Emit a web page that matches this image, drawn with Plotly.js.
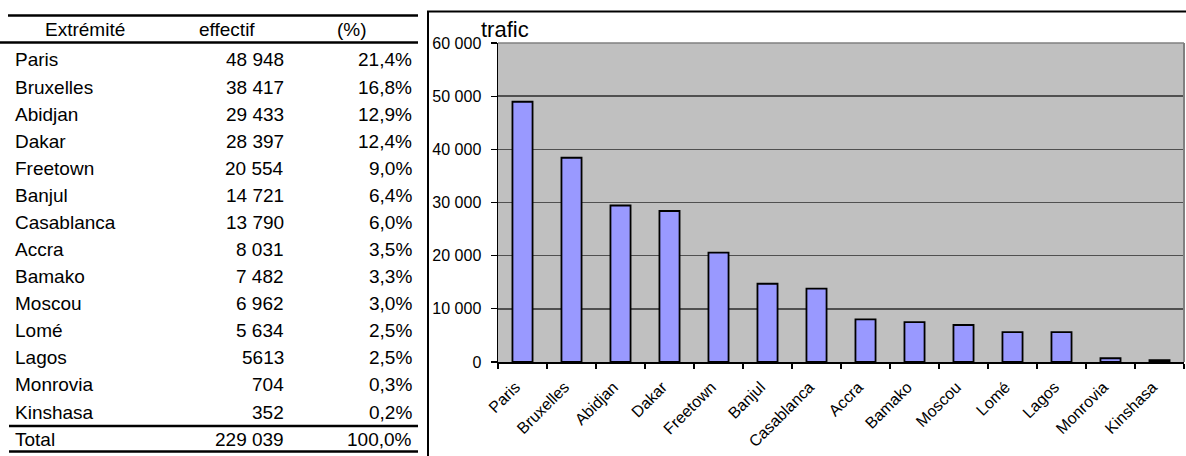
<!DOCTYPE html>
<html>
<head>
<meta charset="utf-8">
<script src="https://cdn.plot.ly/plotly-3.0.1.min.js"></script>
<style>
  html, body { margin: 0; padding: 0; background: #ffffff; }
  #chart { width: 1186px; height: 456px; }
</style>
</head>
<body>
<div id="chart"></div>
<script>
// ---- data ----
const cities = ["Paris", "Bruxelles", "Abidjan", "Dakar", "Freetown", "Banjul", "Casablanca",
                "Accra", "Bamako", "Moscou", "Lomé", "Lagos", "Monrovia", "Kinshasa"];
const effectif = [48948, 38417, 29433, 28397, 20554, 14721, 13790, 8031, 7482, 6962, 5634, 5613, 704, 352];
const effectifText = ["48 948", "38 417", "29 433", "28 397", "20 554", "14 721", "13 790",
                      "8 031", "7 482", "6 962", "5 634", "5613", "704", "352"];
const percentText = ["21,4%", "16,8%", "12,9%", "12,4%", "9,0%", "6,4%", "6,0%",
                     "3,5%", "3,3%", "3,0%", "2,5%", "2,5%", "0,3%", "0,2%"];
const headers = ["Extrémité", "effectif", "(%)"];
const totalRow = ["Total", "229 039", "100,0%"];
const chartTitle = "trafic";
const yTickVals = [0, 10000, 20000, 30000, 40000, 50000, 60000];

// ---- geometry helpers (pixel -> paper) ----
const W = 1186, H = 456;
const M = { l: 498, r: 2, t: 43, b: 94 };
const PW = W - M.l - M.r, PH = H - M.t - M.b;
const xp = px => (px - M.l) / PW;
const yp = py => (H - M.b - py) / PH;

const FONT = "Liberation Sans, Arial, sans-serif";
const tableFont = { family: FONT, size: 19, color: "#000000" };

const annotations = [];
const shapes = [];

// chart title
annotations.push({ text: chartTitle, xref: "paper", yref: "paper", x: xp(479), y: yp(30),
  xanchor: "left", yanchor: "middle", showarrow: false,
  font: { family: FONT, size: 22, color: "#000000" } });

// table header
const headerX = [85, 227, 352];
headers.forEach((h, i) => {
  annotations.push({ text: h, xref: "paper", yref: "paper", x: xp(headerX[i]), y: yp(30),
    xanchor: "center", yanchor: "middle", showarrow: false, font: tableFont });
});
// table rows
const rowY0 = 60, rowStep = 27.08;
cities.forEach((c, i) => {
  const y = yp(rowY0 + i * rowStep);
  annotations.push({ text: c, xref: "paper", yref: "paper", x: xp(13), y: y,
    xanchor: "left", yanchor: "middle", showarrow: false, font: tableFont });
  annotations.push({ text: effectifText[i], xref: "paper", yref: "paper", x: xp(286), y: y,
    xanchor: "right", yanchor: "middle", showarrow: false, font: tableFont });
  annotations.push({ text: percentText[i], xref: "paper", yref: "paper", x: xp(414), y: y,
    xanchor: "right", yanchor: "middle", showarrow: false, font: tableFont });
});
// total row
const totalX = [13, 286, 414], totalAnchor = ["left", "right", "right"];
totalRow.forEach((t, i) => {
  annotations.push({ text: t, xref: "paper", yref: "paper", x: xp(totalX[i]), y: yp(439),
    xanchor: totalAnchor[i], yanchor: "middle", showarrow: false, font: tableFont });
});
// table lines
const tableLines = [[8, 15.5], [0, 42.5], [9, 426], [9, 451.5]];
tableLines.forEach(([x0, y]) => {
  shapes.push({ type: "line", xref: "paper", yref: "paper", x0: xp(x0), x1: xp(418),
    y0: yp(y), y1: yp(y), line: { color: "#000000", width: 2.6 } });
});
// chart frame (left + top)
shapes.push({ type: "line", xref: "paper", yref: "paper", x0: xp(428), x1: xp(428),
  y0: yp(11.5), y1: yp(460), line: { color: "#000000", width: 2 } });
shapes.push({ type: "line", xref: "paper", yref: "paper", x0: xp(427), x1: xp(1190),
  y0: yp(11.5), y1: yp(11.5), line: { color: "#000000", width: 2 } });
// plot area top/right border (grey)
shapes.push({ type: "line", xref: "paper", yref: "paper", x0: 0, x1: 1, y0: 1, y1: 1,
  line: { color: "#808080", width: 1.5 } });
shapes.push({ type: "line", xref: "paper", yref: "paper", x0: 1, x1: 1, y0: 0, y1: 1,
  line: { color: "#808080", width: 2 } });

const trace = {
  type: "bar",
  x: cities,
  y: effectif,
  marker: { color: "#9999FF", line: { color: "#000000", width: 1.8 } },
  hoverinfo: "x+y"
};

const layout = {
  width: W, height: H,
  margin: M,
  paper_bgcolor: "#ffffff",
  plot_bgcolor: "#C0C0C0",
  separators: ", ",
  showlegend: false,
  bargap: 0.59,
  font: { family: FONT, color: "#000000" },
  xaxis: {
    type: "category",
    tickson: "boundaries",
    ticks: "outside", ticklen: 5, tickwidth: 1.3, tickcolor: "#000000",
    tickangle: -45,
    tickfont: { family: FONT, size: 16, color: "#000000" },
    showline: true, linecolor: "#000000", linewidth: 1.5,
    showgrid: false, zeroline: false,
    ticklabelstandoff: 8,
    ticklabelshift: -7
  },
  yaxis: {
    range: [0, 60000],
    tickvals: yTickVals,
    tickformat: ",d",
    ticks: "outside", ticklen: 6, tickwidth: 1.3, tickcolor: "#000000",
    tickfont: { family: FONT, size: 16, color: "#000000" },
    showline: true, linecolor: "#000000", linewidth: 1.5,
    showgrid: true, gridcolor: "#505050", gridwidth: 1.4,
    zeroline: false,
    ticklabelstandoff: 6
  },
  annotations: annotations,
  shapes: shapes
};

Plotly.newPlot("chart", [trace], layout, { displayModeBar: false, staticPlot: true });
</script>
</body>
</html>
